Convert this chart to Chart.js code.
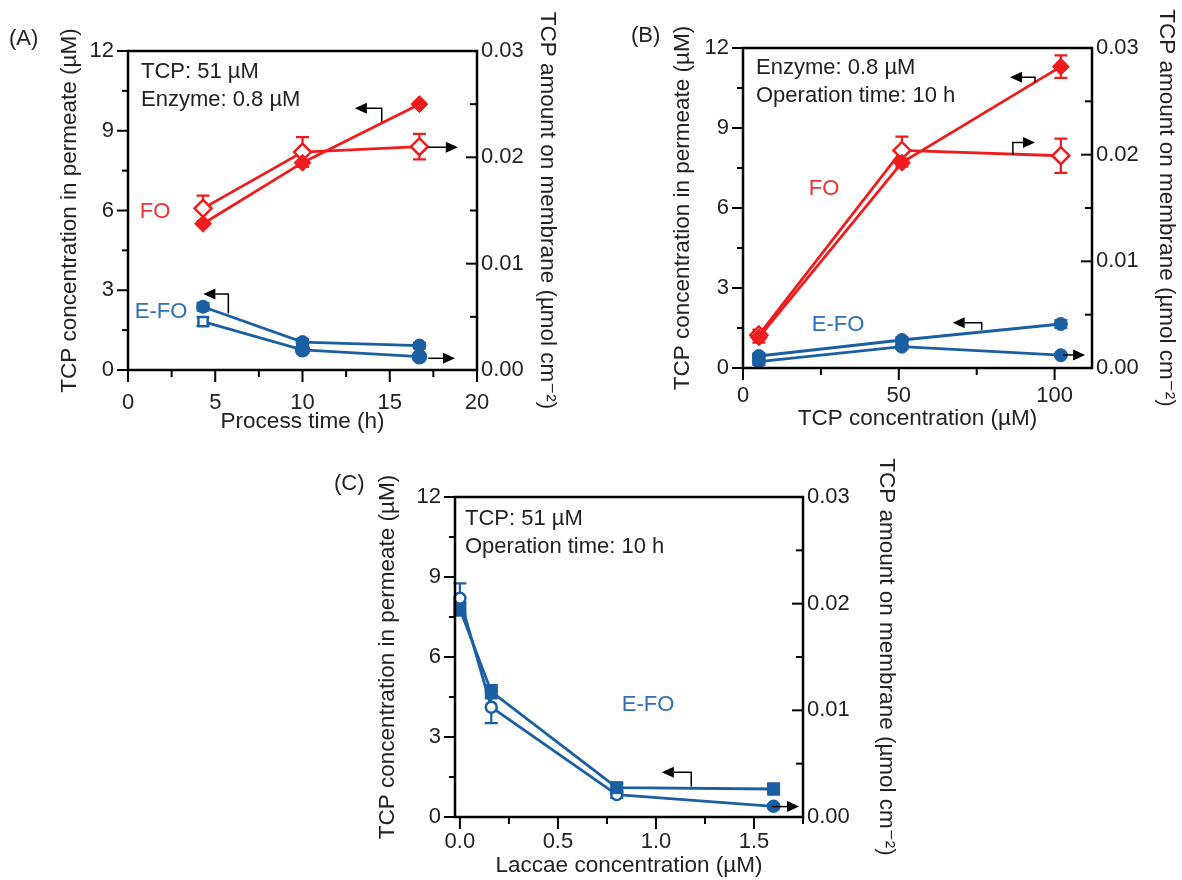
<!DOCTYPE html>
<html>
<head>
<meta charset="utf-8">
<title>TCP permeation and membrane retention</title>
<script src="https://cdn.jsdelivr.net/npm/chart.js@4.4.1/dist/chart.umd.min.js"></script>
<style>
  html, body { margin: 0; padding: 0; background: #fff; }
  body { width: 1182px; height: 880px; position: relative; overflow: hidden; }
  canvas { position: absolute; }
</style>
</head>
<body>
<canvas id="panelA" width="580" height="440" style="left:0;top:0"></canvas>
<canvas id="panelB" width="582" height="440" style="left:600px;top:0"></canvas>
<canvas id="panelC" width="620" height="430" style="left:300px;top:450px"></canvas>
<script>
const RED = '#ee1c1c';
const BLUE = '#1b5fa3';
const FONT = "'Liberation Sans', Arial, 'DejaVu Sans', sans-serif";

Chart.defaults.font.family = FONT;
Chart.defaults.font.size = 22;
Chart.defaults.color = '#222';

// shared y axes: permeate (left) and membrane (right)
const permeateTicks = [0, 3, 6, 9, 12];
const permeateMinor = [1.5, 4.5, 7.5, 10.5];
const membraneTicks = [0, 0.01, 0.02, 0.03];
const membraneMinor = [0.005, 0.015, 0.025];

// (A) process time
const timeH = [4.3, 10, 16.7];
const timeTicks = [0, 5, 10, 15, 20];
const timeMinor = [2.5, 7.5, 12.5, 17.5];
const foPermeateA = [5.5, 7.8, 10.0];
const foPermeateErrA = [0, 0, 0];
const foMembraneA = [0.0152, 0.0205, 0.0210];
const foMembraneErrA = [0.0012, 0.0014, 0.0012];
const efoPermeateA = [2.38, 1.05, 0.92];
const efoPermeateErrA = [0.15, 0.1, 0.1];
const efoMembraneA = [0.00455, 0.0019, 0.00125];
const efoMembraneErrA = [0.0004, 0.0002, 0.0002];

// (B) TCP feed concentration
const tcpFeed = [5.1, 51, 102];
const tcpTicks = [0, 50, 100];
const tcpMinor = [25, 75];
const foPermeateB = [1.15, 7.7, 11.3];
const foPermeateErrB = [0.2, 0.15, 0.42];
const foMembraneB = [0.0031, 0.0204, 0.0199];
const foMembraneErrB = [0.0005, 0.0013, 0.0016];
const efoPermeateB = [0.45, 1.05, 1.65];
const efoPermeateErrB = [0.1, 0.1, 0.15];
const efoMembraneB = [0.0006, 0.0020, 0.0012];
const efoMembraneErrB = [0.0003, 0.0002, 0.0001];

// (C) laccase dose
const laccase = [0, 0.16, 0.8, 1.6];
const laccaseTicks = [0, 0.5, 1.0, 1.5];
const laccaseMinor = [0.25, 0.75, 1.25, 1.75];
const efoPermeateC = [7.8, 4.7, 1.1, 1.05];
const efoPermeateErrC = [0.25, 0.25, 0.15, 0.2];
const efoMembraneC = [0.0205, 0.0103, 0.0021, 0.0010];
const efoMembraneErrC = [0.0014, 0.0015, 0.0003, 0.0002];

const LEFT_TITLE = 'TCP concentration in permeate (\u00b5M)';
const RIGHT_TITLE = 'TCP amount on membrane (\u00b5mol cm\u207b\u00b2)';
const TITLE_FONT = {size: 22.5};

// error bars under the markers, frame / ticks / arrows / notes on top
const decor = {
  id: 'decor',
  beforeDatasetsDraw(chart) {
    const ctx = chart.ctx;
    chart.data.datasets.forEach(ds => {
      if (!ds.errors) return;
      const xs = chart.scales.x, ys = chart.scales[ds.yAxisID];
      ctx.save();
      ctx.strokeStyle = ds.borderColor;
      ctx.lineWidth = 2.2;
      ds.data.forEach((p, j) => {
        const e = ds.errors[j];
        if (!e) return;
        const px = xs.getPixelForValue(p.x);
        const top = ys.getPixelForValue(p.y + e), bot = ys.getPixelForValue(p.y - e);
        ctx.beginPath();
        ctx.moveTo(px, top); ctx.lineTo(px, bot);
        ctx.moveTo(px - 6.5, top); ctx.lineTo(px + 6.5, top);
        ctx.moveTo(px - 6.5, bot); ctx.lineTo(px + 6.5, bot);
        ctx.stroke();
      });
      ctx.restore();
    });
  },
  afterDraw(chart, args, o) {
    const {ctx, chartArea: a, scales} = chart;
    const {x, y, y1} = scales;
    ctx.save();
    ctx.strokeStyle = '#000';
    ctx.fillStyle = '#000';

    const mark = (scale, vals, len) => vals.forEach(v => {
      const p = scale.getPixelForValue(v);
      ctx.beginPath();
      if (scale.axis === 'x') { ctx.moveTo(p, a.bottom); ctx.lineTo(p, a.bottom + len); }
      else if (scale.position === 'left') { ctx.moveTo(a.left, p); ctx.lineTo(a.left - len, p); }
      else { ctx.moveTo(a.right, p); ctx.lineTo(a.right - len, p); }
      ctx.stroke();
    });
    ctx.lineWidth = 2;
    mark(x, x.ticks.map(t => t.value), 12);
    mark(x, o.xMinor, 7);
    mark(y, y.ticks.map(t => t.value), 11);
    mark(y, o.yMinor, 6);
    mark(y1, y1.ticks.map(t => t.value), 11);
    mark(y1, o.y1Minor, 7);

    ctx.lineWidth = 2.5;
    ctx.strokeRect(a.left, a.top, a.width, a.height);

    // axis pointers
    ctx.lineWidth = 1.5;
    o.arrows.forEach(path => {
      const pts = path.map(([vx, vy]) => [x.getPixelForValue(vx), y.getPixelForValue(vy)]);
      const n = pts.length;
      const [x1, y1p] = pts[n - 2], [x2, y2] = pts[n - 1];
      const ang = Math.atan2(y2 - y1p, x2 - x1);
      const hl = 12, hw = 5.5;
      const bx = x2 - hl * Math.cos(ang), by = y2 - hl * Math.sin(ang);
      ctx.beginPath();
      ctx.moveTo(pts[0][0], pts[0][1]);
      for (let i = 1; i < n - 1; i++) ctx.lineTo(pts[i][0], pts[i][1]);
      ctx.lineTo(bx, by);
      ctx.stroke();
      ctx.beginPath();
      ctx.moveTo(x2, y2);
      ctx.lineTo(bx + hw * Math.sin(ang), by - hw * Math.cos(ang));
      ctx.lineTo(bx - hw * Math.sin(ang), by + hw * Math.cos(ang));
      ctx.closePath();
      ctx.fill();
    });

    ctx.font = `22px ${FONT}`;
    ctx.textBaseline = 'middle';

    // series names
    ctx.textAlign = 'center';
    o.labels.forEach(l => {
      ctx.fillStyle = l.color;
      ctx.fillText(l.text, x.getPixelForValue(l.x), y.getPixelForValue(l.y));
    });

    // condition notes and panel tag
    ctx.textAlign = 'left';
    ctx.fillStyle = '#222';
    o.notes.forEach((t, i) => ctx.fillText(t, a.left + o.noteDx, a.top + o.noteDy + i * 28));
    ctx.fillText(o.tag, a.left + o.tagDx, a.top + o.tagDy);
    ctx.restore();
  }
};

function pts(xs, ys) {
  return xs.map((v, i) => ({x: v, y: ys[i]}));
}

function series(xs, ys, errs, axis, style) {
  return Object.assign({
    data: pts(xs, ys),
    errors: errs,
    yAxisID: axis,
    showLine: true,
    tension: 0,
    borderWidth: 2.8,
    clip: false,
    fill: false
  }, style);
}

const foFilled = {borderColor: RED, pointBackgroundColor: RED, pointBorderColor: RED,
  pointStyle: 'rectRot', pointRadius: 8.5, pointBorderWidth: 1};
const foOpen = {borderColor: RED, pointBackgroundColor: '#fff', pointBorderColor: RED,
  pointStyle: 'rectRot', pointRadius: 8.5, pointBorderWidth: 2.5};
const efoFilled = {borderColor: BLUE, pointBackgroundColor: BLUE, pointBorderColor: BLUE,
  pointStyle: 'circle', pointRadius: 6.5, pointBorderWidth: 1};

function fixBox(s, size) {
  if (s.isHorizontal()) s.height = size; else s.width = size;
  s.paddingLeft = s.paddingRight = s.paddingTop = s.paddingBottom = 0;
}

function makePanel(canvasId, p) {
  return new Chart(document.getElementById(canvasId), {
    type: 'line',
    data: {datasets: p.datasets},
    options: {
      responsive: false,
      devicePixelRatio: 1,
      animation: false,
      layout: {padding: p.padding},
      plugins: {legend: {display: false}, tooltip: {enabled: false}, decor: p.decor},
      scales: {
        x: {
          type: 'linear', min: p.xMin, max: p.xMax,
          afterBuildTicks: s => { s.ticks = p.xTicks.map(v => ({value: v})); },
          afterFit: s => fixBox(s, p.xHeight),
          ticks: {padding: p.xPad, autoSkip: false, maxRotation: 0, callback: p.xFmt},
          grid: {display: false, drawTicks: false},
          border: {display: false},
          title: {display: true, text: p.xTitle, padding: 0, font: TITLE_FONT}
        },
        y: {
          type: 'linear', position: 'left', min: 0, max: 12,
          afterBuildTicks: s => { s.ticks = permeateTicks.map(v => ({value: v})); },
          afterFit: s => fixBox(s, p.yWidth),
          ticks: {padding: 14, autoSkip: false, callback: v => String(v)},
          grid: {display: false, drawTicks: false},
          border: {display: false},
          title: {display: true, text: LEFT_TITLE, padding: 0, font: TITLE_FONT}
        },
        y1: {
          type: 'linear', position: 'right', min: 0, max: 0.03,
          afterBuildTicks: s => { s.ticks = membraneTicks.map(v => ({value: v})); },
          afterFit: s => fixBox(s, p.y1Width),
          ticks: {padding: 4, autoSkip: false, callback: v => v.toFixed(2)},
          grid: {display: false, drawTicks: false},
          border: {display: false},
          title: {display: true, text: RIGHT_TITLE, padding: 0, font: TITLE_FONT}
        }
      }
    },
    plugins: [decor]
  });
}

makePanel('panelA', {
  padding: {left: 56, right: 19, top: 51, bottom: 5},
  xMin: 0, xMax: 20, xTicks: timeTicks, xFmt: v => String(v),
  xHeight: 65, xPad: 20, yWidth: 72, y1Width: 84,
  xTitle: 'Process time (h)',
  datasets: [
    series(timeH, foPermeateA, foPermeateErrA, 'y', foFilled),
    series(timeH, foMembraneA, foMembraneErrA, 'y1', foOpen),
    series(timeH, efoPermeateA, efoPermeateErrA, 'y', efoFilled),
    series(timeH, efoMembraneA, efoMembraneErrA, 'y1', Object.assign({}, efoFilled, {
      pointStyle: ['rect', 'circle', 'circle'],
      pointBackgroundColor: ['#fff', BLUE, BLUE], pointBorderWidth: 2.5}))
  ],
  decor: {
    xMinor: timeMinor, yMinor: permeateMinor, y1Minor: membraneMinor,
    arrows: [
      [[14.54, 9.34], [14.54, 9.85], [13.0, 9.85]],
      [[17.2, 8.38], [18.9, 8.38]],
      [[5.75, 2.13], [5.75, 2.86], [4.32, 2.86]],
      [[17.2, 0.44], [18.74, 0.44]]
    ],
    labels: [
      {text: 'FO', x: 1.55, y: 5.94, color: '#f03434'},
      {text: 'E-FO', x: 1.89, y: 2.19, color: '#2f70b4'}
    ],
    notes: ['TCP: 51 \u00b5M', 'Enzyme: 0.8 \u00b5M'], noteDx: 13, noteDy: 21,
    tag: '(A)', tagDx: -119, tagDy: -12
  }
});

makePanel('panelB', {
  padding: {left: 69, right: 2, top: 48, bottom: 8},
  xMin: 0, xMax: 112, xTicks: tcpTicks, xFmt: v => String(v),
  xHeight: 64, xPad: 15, yWidth: 74, y1Width: 88,
  xTitle: 'TCP concentration (\u00b5M)',
  datasets: [
    series(tcpFeed, foPermeateB, foPermeateErrB, 'y', foFilled),
    series(tcpFeed, foMembraneB, foMembraneErrB, 'y1', foOpen),
    series(tcpFeed, efoPermeateB, efoPermeateErrB, 'y', efoFilled),
    series(tcpFeed, efoMembraneB, efoMembraneErrB, 'y1', efoFilled)
  ],
  decor: {
    xMinor: tcpMinor, yMinor: permeateMinor, y1Minor: membraneMinor,
    arrows: [
      [[93.7, 10.71], [93.7, 10.9], [85.7, 10.9]],
      [[86.6, 7.99], [86.6, 8.46], [93.7, 8.46]],
      [[76.6, 1.42], [76.6, 1.70], [67.3, 1.70]],
      [[102.8, 0.49], [109.8, 0.49]]
    ],
    labels: [
      {text: 'FO', x: 26, y: 6.7, color: '#f03434'},
      {text: 'E-FO', x: 30.5, y: 1.61, color: '#2f70b4'}
    ],
    notes: ['Enzyme: 0.8 \u00b5M', 'Operation time: 10 h'], noteDx: 13, noteDy: 20,
    tag: '(B)', tagDx: -112, tagDy: -12
  }
});

makePanel('panelC', {
  padding: {left: 74, right: 20, top: 47, bottom: 1},
  xMin: -0.025, xMax: 1.75, xTicks: laccaseTicks, xFmt: v => v.toFixed(1),
  xHeight: 62, xPad: 12, yWidth: 81, y1Width: 97,
  xTitle: 'Laccae concentration (\u00b5M)',
  datasets: [
    series(laccase, efoPermeateC, efoPermeateErrC, 'y', Object.assign({}, efoFilled, {
      pointStyle: 'rect', pointRadius: 8.5})),
    series(laccase, efoMembraneC, efoMembraneErrC, 'y1', Object.assign({}, efoFilled, {
      pointBackgroundColor: ['#fff', '#fff', '#fff', BLUE], pointRadius: 5.5, pointBorderWidth: 2.5}))
  ],
  decor: {
    xMinor: laccaseMinor, yMinor: permeateMinor, y1Minor: membraneMinor,
    arrows: [
      [[1.18, 1.14], [1.18, 1.68], [1.03, 1.68]],
      [[1.59, 0.39], [1.73, 0.39]]
    ],
    labels: [
      {text: 'E-FO', x: 0.96, y: 4.2, color: '#2f70b4'}
    ],
    notes: ['TCP: 51 \u00b5M', 'Operation time: 10 h'], noteDx: 10, noteDy: 22,
    tag: '(C)', tagDx: -121, tagDy: -13
  }
});
</script>
</body>
</html>
